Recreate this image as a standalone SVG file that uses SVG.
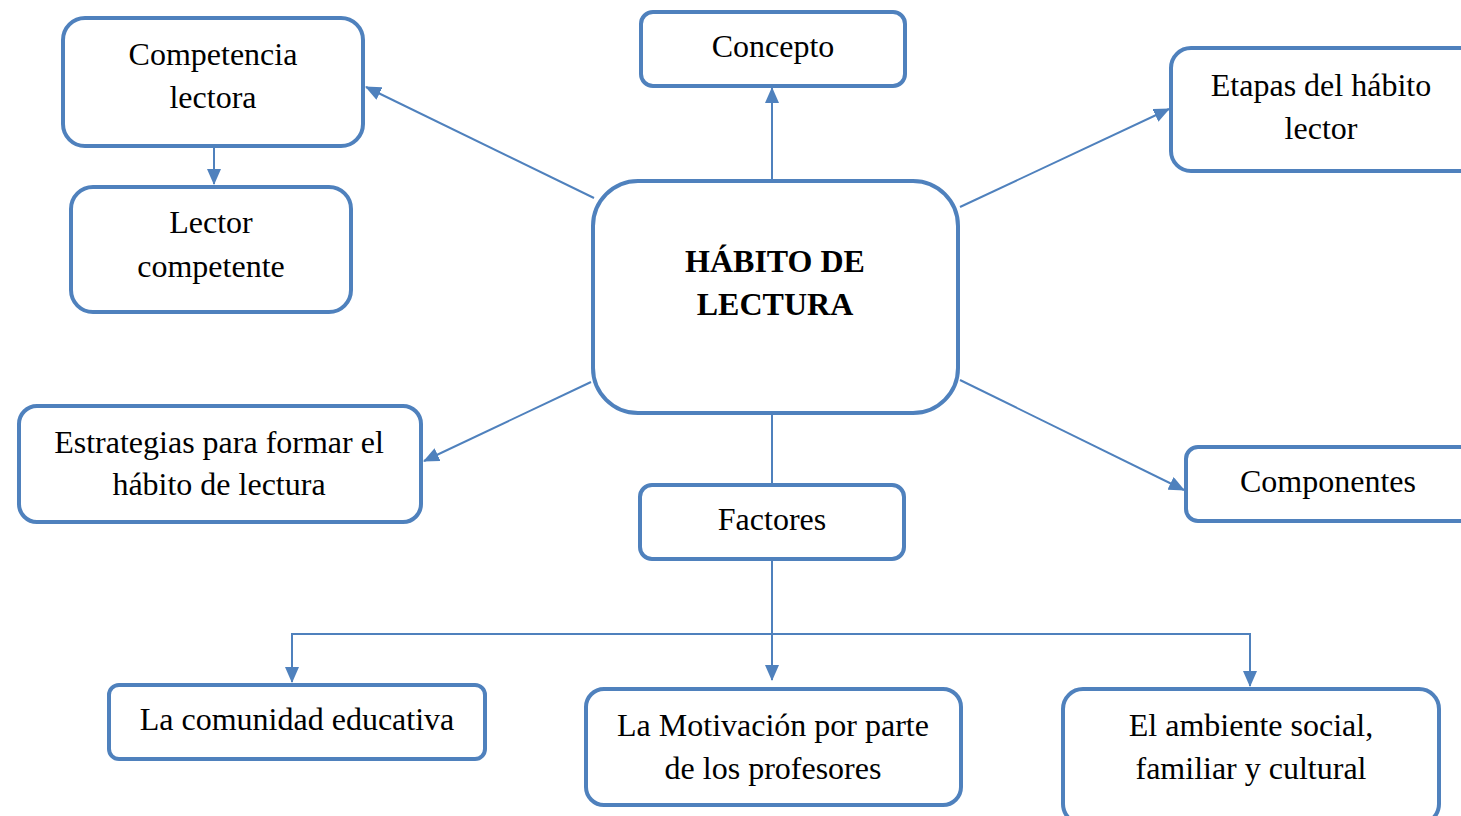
<svg xmlns="http://www.w3.org/2000/svg" width="1461" height="816" viewBox="0 0 1461 816">
<style>
.n{fill:#fff;stroke:#4F81BD;stroke-width:4}
.t{font-family:"Liberation Serif","Times New Roman",serif;font-size:32px;fill:#000;text-anchor:middle}
.b{font-weight:bold}
.c{fill:none;stroke:#4F81BD;stroke-width:2}
</style>
<defs>
<marker id="ah" markerUnits="userSpaceOnUse" markerWidth="16" markerHeight="14" refX="15" refY="7" orient="auto">
<path d="M0,0 L16,7 L0,14 Z" fill="#4F81BD"/>
</marker>
</defs>
<rect width="1461" height="816" fill="#fff"/>
<g id="connectors">
<line class="c" x1="594" y1="198" x2="366" y2="87" marker-end="url(#ah)"/>
<line class="c" x1="772" y1="180" x2="772" y2="88" marker-end="url(#ah)"/>
<line class="c" x1="960" y1="207" x2="1169" y2="109" marker-end="url(#ah)"/>
<line class="c" x1="591" y1="382" x2="424" y2="461" marker-end="url(#ah)"/>
<line class="c" x1="960" y1="380" x2="1184" y2="490" marker-end="url(#ah)"/>
<line class="c" x1="772" y1="414" x2="772" y2="484"/>
<line class="c" x1="214" y1="146" x2="214" y2="184" marker-end="url(#ah)"/>
<line class="c" x1="772" y1="560" x2="772" y2="680" marker-end="url(#ah)"/>
<polyline class="c" points="292,682 292,634 1250,634 1250,686" marker-end="url(#ah)"/>
<line class="c" x1="292" y1="634" x2="292" y2="682" marker-end="url(#ah)"/>
</g>
<g id="central">
<rect class="n" x="593" y="181" width="365" height="232" rx="45"/>
<text class="t b" x="775" y="272">HÁBITO DE</text>
<text class="t b" x="775" y="315">LECTURA</text>
</g>
<g id="competencia">
<rect class="n" x="63" y="18" width="300" height="128" rx="22"/>
<text class="t" x="213" y="65">Competencia</text>
<text class="t" x="213" y="108">lectora</text>
</g>
<g id="lector">
<rect class="n" x="71" y="187" width="280" height="125" rx="22"/>
<text class="t" x="211" y="233">Lector</text>
<text class="t" x="211" y="277">competente</text>
</g>
<g id="concepto">
<rect class="n" x="641" y="12" width="264" height="74" rx="12"/>
<text class="t" x="773" y="57">Concepto</text>
</g>
<g id="etapas">
<rect class="n" x="1171" y="48" width="310" height="123" rx="20"/>
<text class="t" x="1321" y="96">Etapas del hábito</text>
<text class="t" x="1321" y="139">lector</text>
</g>
<g id="estrategias">
<rect class="n" x="19" y="406" width="402" height="116" rx="18"/>
<text class="t" x="219" y="453">Estrategias para formar el</text>
<text class="t" x="219" y="495">hábito de lectura</text>
</g>
<g id="componentes">
<rect class="n" x="1186" y="447" width="300" height="74" rx="12"/>
<text class="t" x="1328" y="492">Componentes</text>
</g>
<g id="factores">
<rect class="n" x="640" y="485" width="264" height="74" rx="12"/>
<text class="t" x="772" y="530">Factores</text>
</g>
<g id="comunidad">
<rect class="n" x="109" y="685" width="376" height="74" rx="10"/>
<text class="t" x="297" y="730">La comunidad educativa</text>
</g>
<g id="motivacion">
<rect class="n" x="586" y="689" width="375" height="116" rx="18"/>
<text class="t" x="773" y="736">La Motivación por parte</text>
<text class="t" x="773" y="779">de los profesores</text>
</g>
<g id="ambiente">
<rect class="n" x="1063" y="689" width="376" height="135" rx="20"/>
<text class="t" x="1251" y="736">El ambiente social,</text>
<text class="t" x="1251" y="779">familiar y cultural</text>
</g>
</svg>
